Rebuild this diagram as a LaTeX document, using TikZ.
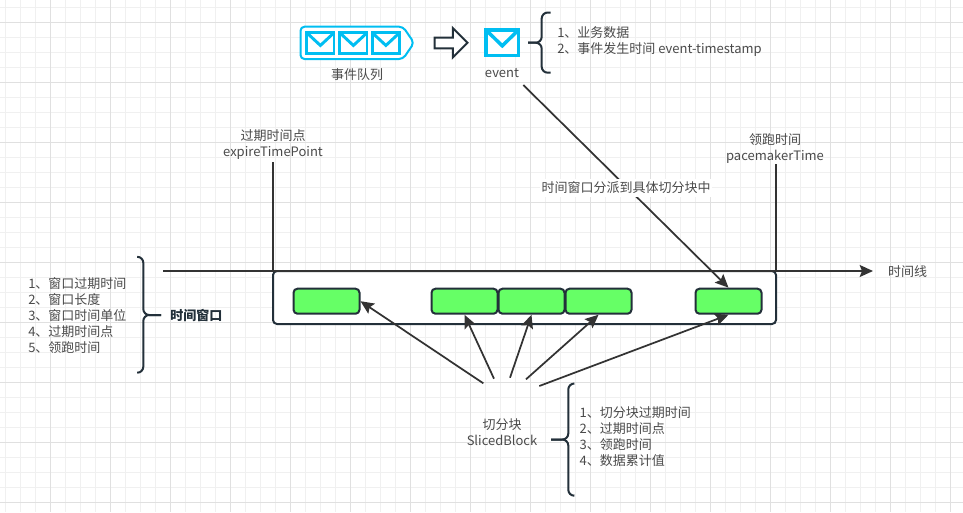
\documentclass[tikz,border=0pt]{standalone}
\usepackage{fontspec}
\setmainfont{Noto Sans CJK SC}
\usetikzlibrary{arrows.meta}
\definecolor{ink}{HTML}{23303A}
\definecolor{arrowink}{HTML}{333333}
\definecolor{txt}{HTML}{4A4A4A}
\definecolor{msg}{HTML}{00BEF2}
\definecolor{blockfill}{HTML}{66FF66}
\newcommand{\mailbox}[5]{% x y w h width
  \draw[msg,line width=#5,fill=white] (#1,#2) rectangle ++(#3,#4);
  \draw[msg,line width=#5,line join=miter] (#1,#2) -- ++({#3/2},{#4*0.62}) -- (#1+#3,#2);
}
\tikzset{
  lbl/.style={text=txt,font=\fontsize{9.75}{12}\selectfont,inner sep=0pt,align=center},
  lbll/.style={lbl,align=left},
  bracket/.style={draw=ink,line width=1.5pt,rounded corners=4.5pt},
  conn/.style={draw=arrowink,line width=1.3pt,-{Stealth[length=10pt,width=9pt,inset=1.8pt]}},
  plain/.style={draw=arrowink,line width=1.5pt},
  sliced/.style={draw=ink,line width=1.5pt,fill=blockfill,rounded corners=3pt,minimum width=49.5pt,minimum height=18.8pt,inner sep=0pt},
}
\begin{document}
\begin{tikzpicture}[x=0.75pt,y=-0.75pt]
\useasboundingbox (0,0) rectangle (963,512);
\fill[white] (0,0) rectangle (963,512);
% grid
\foreach \i in {0,...,63}{\draw[draw=black!6,line width=0.75pt] ({5.4+15*\i},0) -- ({5.4+15*\i},512);}
\foreach \i in {0,...,33}{\draw[draw=black!6,line width=0.75pt] (0,{7.4+15*\i}) -- (963,{7.4+15*\i});}
\foreach \i in {0,...,15}{\draw[draw=black!12,line width=0.75pt] ({50.4+60*\i},0) -- ({50.4+60*\i},512);}
\foreach \i in {0,...,8}{\draw[draw=black!12,line width=0.75pt] (0,{22.4+60*\i}) -- (963,{22.4+60*\i});}
% queue
\draw[msg,line width=1.5pt,rounded corners=3pt,fill=white] (300.5,26.7) -- (403,26.7) -- (414,42.8) -- (403,59) -- (300.5,59) -- cycle;
\mailbox{306.8}{32.8}{27.2}{20.4}{2.2pt}
\mailbox{339.8}{32.8}{27.2}{20.4}{2.2pt}
\mailbox{372.3}{32.8}{27.2}{20.4}{2.2pt}
\node[lbl] (queue) at (357,75) {事件队列};
% big arrow
\draw[ink,line width=1.5pt,fill=white] (434.5,37.5) -- (452.8,37.5) -- (452.8,28) -- (467.5,42.8) -- (452.8,57.5) -- (452.8,48.3) -- (434.5,48.3) -- cycle;
% event
\mailbox{486}{30}{32.5}{25.5}{2.6pt}
\node[lbl] (event) at (502,73) {event};
% event bracket
\draw[bracket] (550.7,12.5) -- (541.7,12.5) -- (541.7,42.7) -- (528,42.7);
\draw[bracket] (550.7,72.7) -- (541.7,72.7) -- (541.7,42.7) -- (528,42.7);
\node[lbll,anchor=north west] (eventinfo) at (557,26) {1、业务数据\\2、事件发生时间 event-timestamp};
% verticals
\node[lbl] (expire) at (273,144.5) {过期时间点\\expireTimePoint};
\node[lbl] (pace) at (775,149) {领跑时间\\pacemakerTime};
\coordinate (expireTop) at (273,162);
\coordinate (expireBot) at (273,271);
\coordinate (paceTop) at (776,164);
\coordinate (paceBot) at (776,271);
\draw[plain] (expireTop) -- (expireBot);
\draw[plain] (paceTop) -- (paceBot);
% window
\node[draw=ink,line width=1.5pt,fill=white,rounded corners=3pt,minimum width=377.25pt,minimum height=39.75pt,inner sep=0pt] (window) at (524.5,297.5) {};
% timeline
\coordinate (lineStart) at (163,271);
\node[lbl] (timeline) at (907.5,272) {时间线};
\coordinate (lineEnd) at (873,271);
\draw[conn] (lineStart) -- (lineEnd);
% blocks
\node[sliced] (b1) at (326.5,301.2) {};
\node[sliced] (b2) at (464.5,301.2) {};
\node[sliced] (b3) at (531.5,301.2) {};
\node[sliced] (b4) at (598.5,301.2) {};
\node[sliced] (b5) at (728.5,301.2) {};
% dispatch
\coordinate (dispatchStart) at (523.3,85);
\draw[conn] (dispatchStart) -- (b5.north);
\node[lbl,fill=white,inner xsep=1pt,inner ysep=2pt] (dispatch) at (626,188) {时间窗口分派到具体切分块中};
% sliced
\node[lbl] (sblock) at (502,432) {切分块\\SlicedBlock};
\coordinate (s1) at (483.3,383.3);
\coordinate (s2) at (494,378.7);
\coordinate (s3) at (510,377.7);
\coordinate (s4) at (526,379.3);
\coordinate (s5) at (539.3,386);
\draw[conn] (s1) -- (b1.east);
\draw[conn] (s2) -- (b2.south);
\draw[conn] (s3) -- (b3.south);
\draw[conn] (s4) -- (b4.south);
\draw[conn] (s5) -- (b5.south);
% sliced bracket
\draw[bracket] (574,383.5) -- (568.3,383.5) -- (568.3,439.5) -- (551,439.5);
\draw[bracket] (574,495.7) -- (568.3,495.7) -- (568.3,439.5) -- (551,439.5);
\node[lbll,anchor=north west] (sinfo) at (579.3,406.3) {1、切分块过期时间\\2、过期时间点\\3、领跑时间\\4、数据累计值};
% window bracket
\draw[bracket] (138.3,256.8) -- (143.3,256.8) -- (143.3,315) -- (161,315);
\draw[bracket] (138.3,372.7) -- (143.3,372.7) -- (143.3,315) -- (161,315);
\node[lbll,anchor=north west] (winfo) at (28,277.3) {1、窗口过期时间\\2、窗口长度\\3、窗口时间单位\\4、过期时间点\\5、领跑时间};
\node[lbl,text=ink,font=\fontsize{9.75}{12}\selectfont\bfseries,anchor=west] (wname) at (170,315) {时间窗口};
\end{tikzpicture}
\end{document}
